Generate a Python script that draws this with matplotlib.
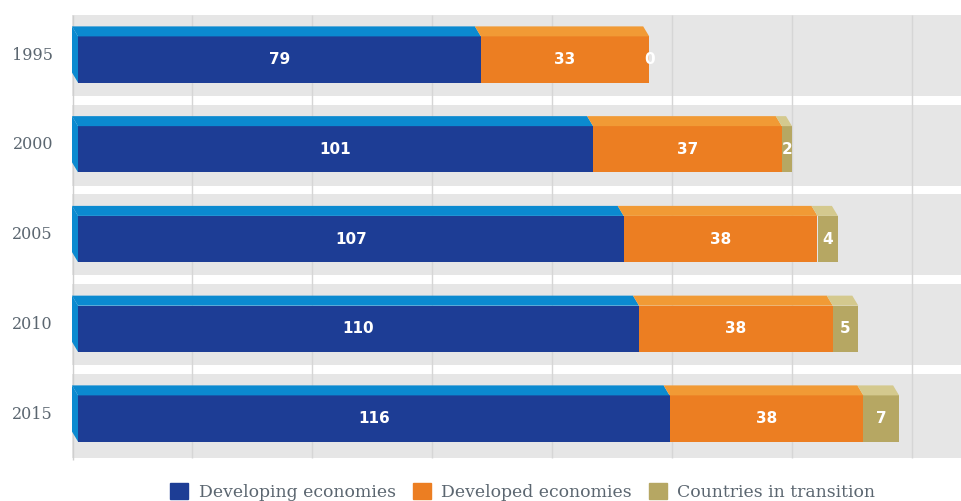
import numpy as np
import matplotlib.pyplot as plt
from matplotlib.patches import Polygon, Patch

# data
years = ['1995', '2000', '2005', '2010', '2015']
developing = [79, 101, 107, 110, 116]
developed = [33, 37, 38, 38, 38]
transition = [0, 2, 4, 5, 7]

series = [developing, developed, transition]
names = ['Developing economies', 'Developed economies', 'Countries in transition']
front_cols = ['#1d3d95', '#ec7e22', '#b6a763']
top_cols = ['#0b8ad0', '#f19a35', '#d4c98e']

# pixel -> data helpers (reference is drawn with fixed pixel scale)
px_x = 5.1      # pixels per unit on x
px_y = 89.75    # pixels per row
dx = 6 / px_x   # depth offset of the 3d faces
dy = 10 / px_y
h = 0.515       # front face height

fig = plt.figure(figsize=(9.61, 5.01), dpi=100)
ax = fig.add_axes([72 / 961, 0, 1 - 72 / 961, 1])
ax.set_xlim(-6 / px_x, (961 - 78) / px_x)
ax.set_ylim((501 - 59.5) / px_y, -59.5 / px_y)
ax.axis('off')

n = len(years)
y = np.arange(n)

# background bands
for i in y:
    ax.axhspan(i - 0.496, i + 0.405, color='#e6e6e6', zorder=0, lw=0)
ax.axhspan(n - 1 + 0.3, n - 1 + 0.44, color='#e6e6e6', zorder=0, lw=0)

# vertical grid lines
grid_x = (120 * np.arange(1, 8) - 6) / px_x
ax.vlines(grid_x, -0.496, n - 1 + 0.44, color='#d6d6d6', lw=1, zorder=1)
ax.vlines(-6 / px_x + 0.1, -0.496, n - 1 + 0.46, color='#cfcfcf', lw=1, zorder=1)

left = np.zeros(n)
for vals, fc, tc in zip(series, front_cols, top_cols):
    vals = np.array(vals, dtype=float)
    ax.barh(y, vals, left=left, height=h, color=fc, zorder=3, lw=0)
    for i in y:
        a, b = left[i], left[i] + vals[i]
        top = i - h / 2
        if b > a:
            ax.add_patch(Polygon([(a - dx, top - dy), (b - dx, top - dy), (b, top), (a, top)],
                                 closed=True, fc=tc, ec='none', zorder=3))
        ax.text((a + b) / 2, i, str(int(vals[i])), ha='center', va='center',
                color='white', fontsize=11, fontweight='bold', zorder=5)
    left = left + vals

# left side face of each bar
for i in y:
    top = i - h / 2
    bot = i + h / 2
    ax.add_patch(Polygon([(-dx, top - dy), (0, top), (0, bot), (-dx, bot - dy)],
                         closed=True, fc=top_cols[0], ec='none', zorder=3))

# year labels
for i, yr in zip(y, years):
    ax.text(-25 / px_x, i - 0.05, yr, ha='right', va='center', fontsize=11.5,
            family='DejaVu Serif', color='#5b6670', clip_on=False)

handles = [Patch(color=c) for c in front_cols]
leg = fig.legend(handles, names, loc='center', bbox_to_anchor=(0.544, 0.018), ncol=3,
                 frameon=False, handlelength=1.05, handleheight=1.05, handletextpad=0.6,
                 columnspacing=1.0, prop={'family': 'DejaVu Serif', 'size': 12.4})
for t in leg.get_texts():
    t.set_color('#5b6670')

fig.savefig('out.png', dpi=100)
